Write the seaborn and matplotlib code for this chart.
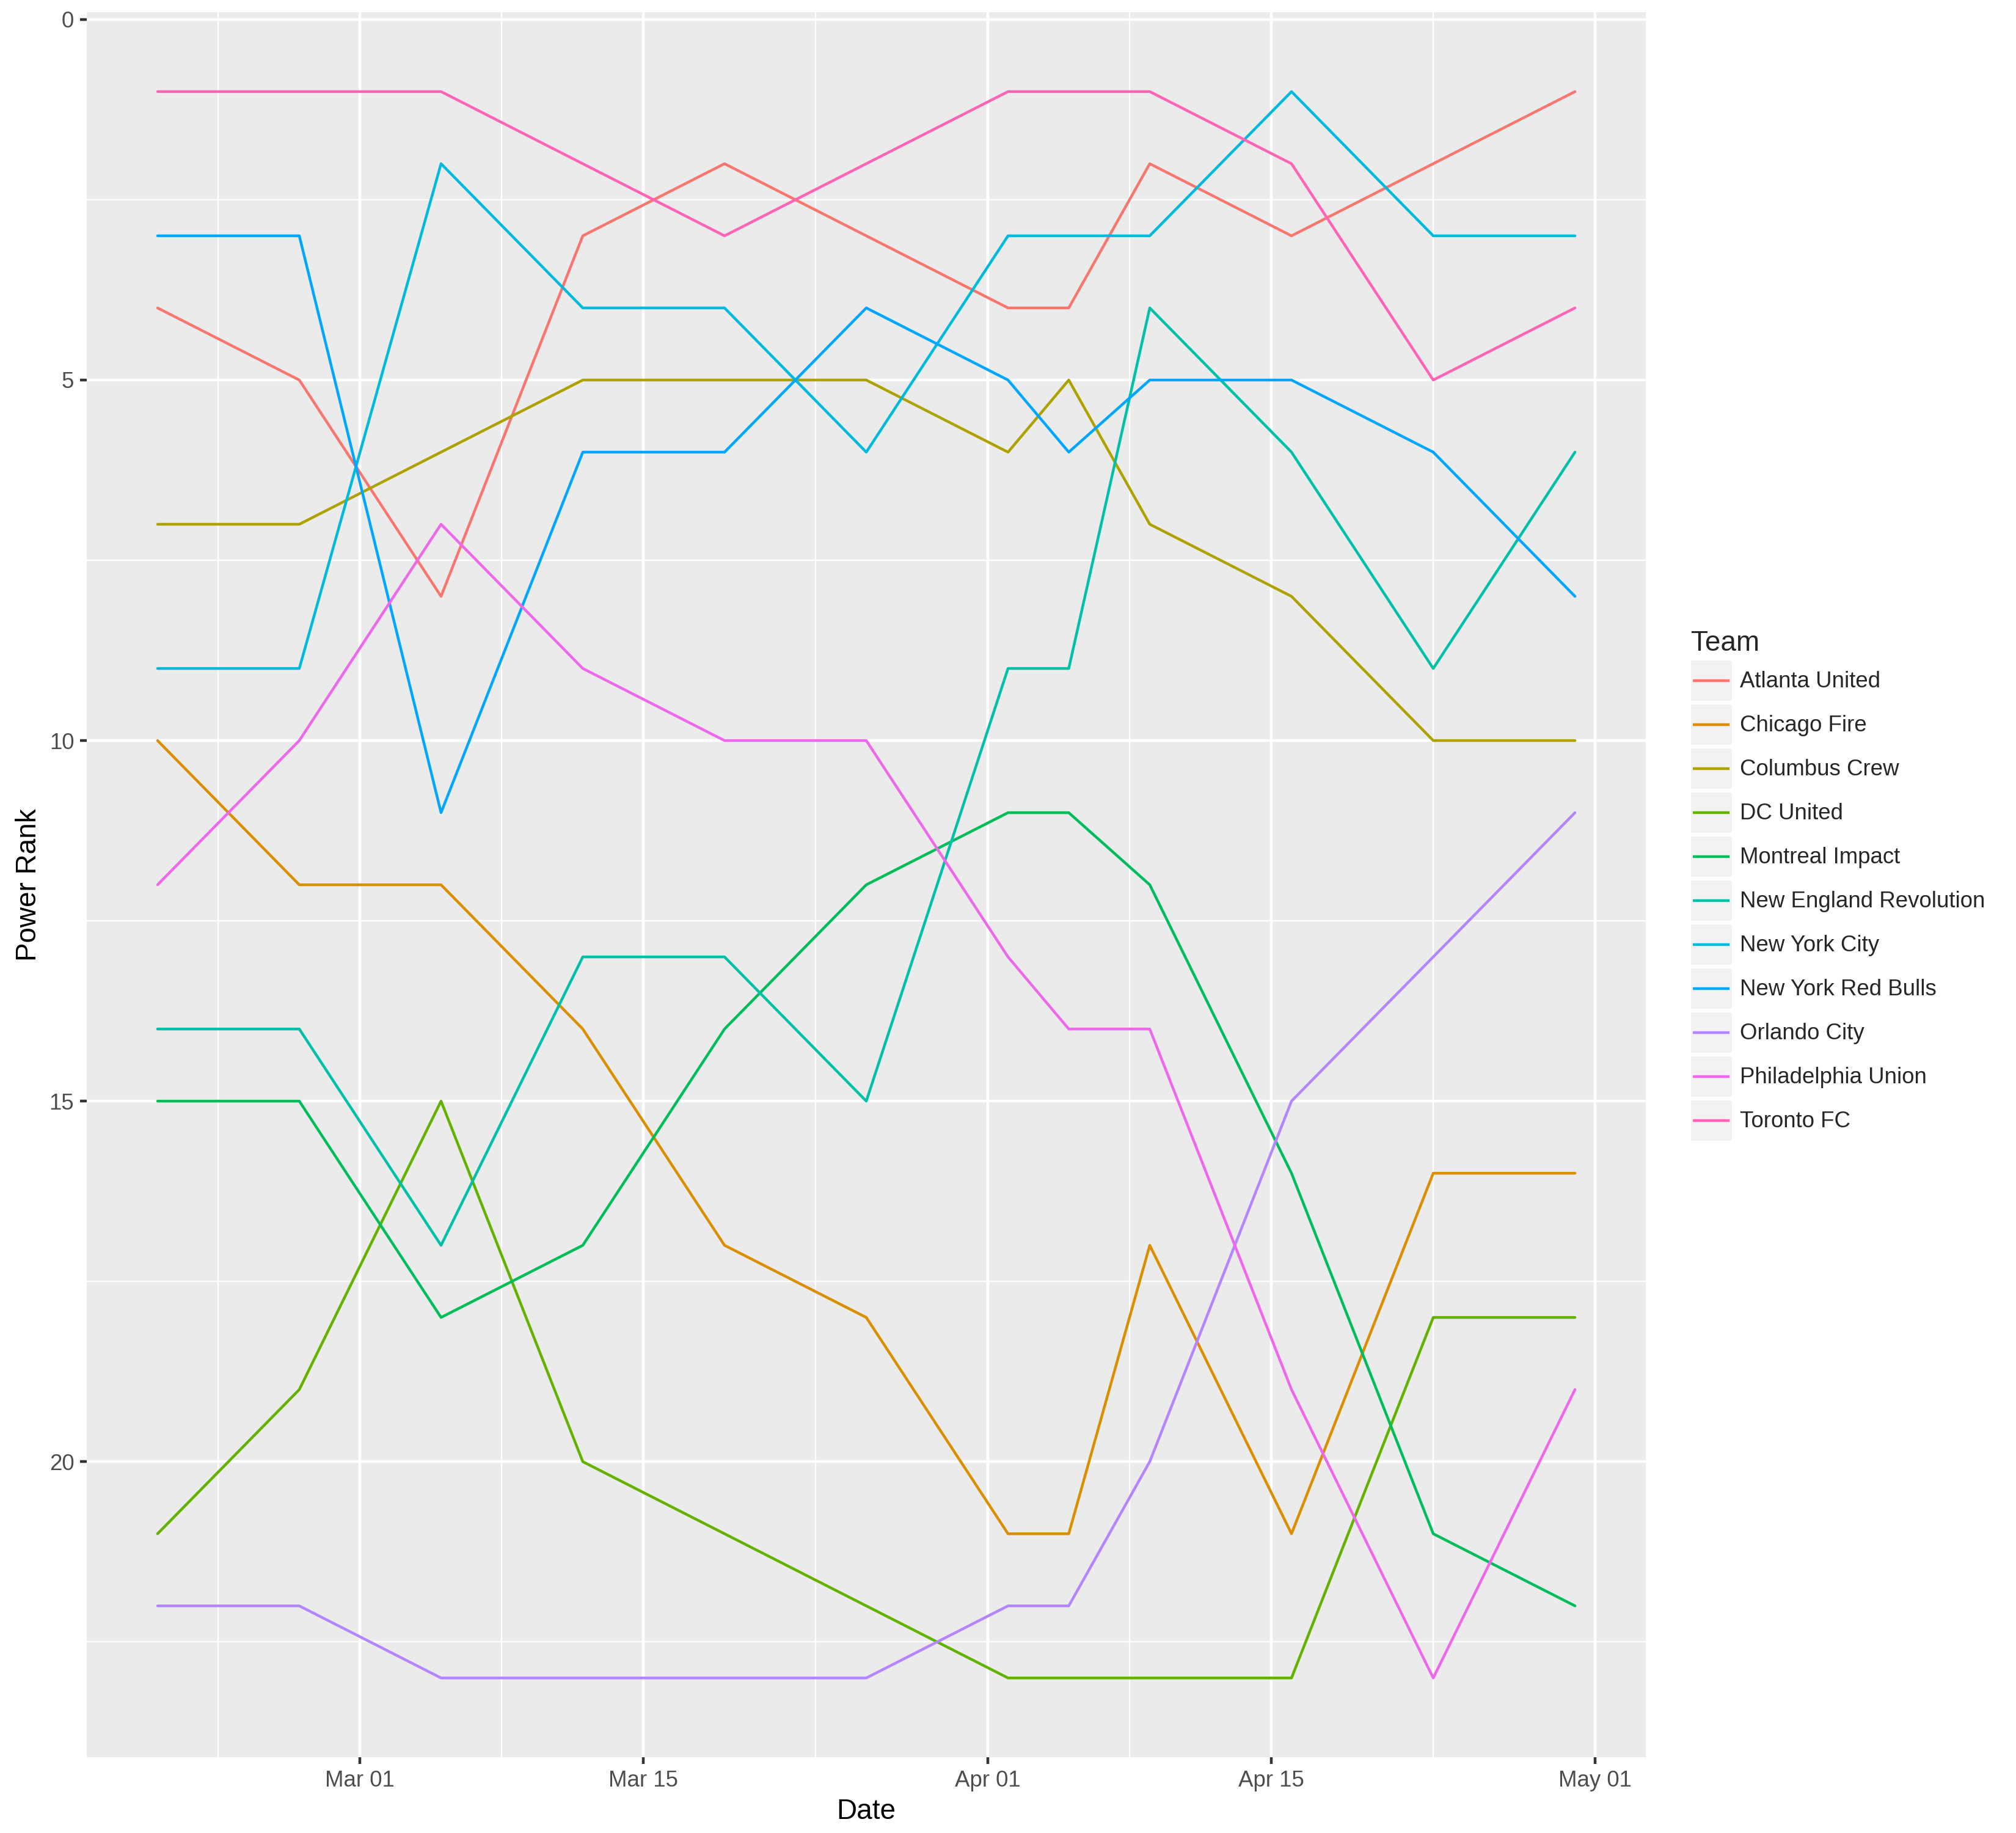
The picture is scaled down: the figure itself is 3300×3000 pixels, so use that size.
import matplotlib
matplotlib.use("Agg")
import matplotlib.pyplot as plt
import matplotlib.dates as mdates
from matplotlib.lines import Line2D
from matplotlib.patches import Rectangle
from matplotlib.legend_handler import HandlerBase
import seaborn as sns
import pandas as pd
import numpy as np

# ---------------- data ----------------
dates = ["2018-02-19", "2018-02-26", "2018-03-05", "2018-03-12", "2018-03-19",
         "2018-03-26", "2018-04-02", "2018-04-05", "2018-04-09", "2018-04-16",
         "2018-04-23", "2018-04-30"]

teams = ["Atlanta United", "Chicago Fire", "Columbus Crew", "DC United",
         "Montreal Impact", "New England Revolution", "New York City",
         "New York Red Bulls", "Orlando City", "Philadelphia Union", "Toronto FC"]

atlanta = [4, 5, 8, 3, 2, 3, 4, 4, 2, 3, 2, 1]
chicago = [10, 12, 12, 14, 17, 18, 21, 21, 17, 21, 16, 16]
columbus = [7, 7, 6, 5, 5, 5, 6, 5, 7, 8, 10, 10]
dc_united = [21, 19, 15, 20, 21, 22, 23, 23, 23, 23, 18, 18]
montreal = [15, 15, 18, 17, 14, 12, 11, 11, 12, 16, 21, 22]
new_england = [14, 14, 17, 13, 13, 15, 9, 9, 4, 6, 9, 6]
nycfc = [9, 9, 2, 4, 4, 6, 3, 3, 3, 1, 3, 3]
red_bulls = [3, 3, 11, 6, 6, 4, 5, 6, 5, 5, 6, 8]
orlando = [22, 22, 23, 23, 23, 23, 22, 22, 20, 15, 13, 11]
philadelphia = [12, 10, 7, 9, 10, 10, 13, 14, 14, 19, 23, 19]
toronto = [1, 1, 1, 2, 3, 2, 1, 1, 1, 2, 5, 4]

ranks = [atlanta, chicago, columbus, dc_united, montreal, new_england,
         nycfc, red_bulls, orlando, philadelphia, toronto]

colors = ["#F8766D", "#DB8E00", "#AEA200", "#64B200", "#00BD5C", "#00C1A7",
          "#00BADE", "#00A6FF", "#B385FF", "#EF67EB", "#FF63B6"]

major_ticks = ["2018-03-01", "2018-03-15", "2018-04-01", "2018-04-15", "2018-05-01"]
y_major = [0, 5, 10, 15, 20]

rows = []
for t, r in zip(teams, ranks):
    for d, v in zip(dates, r):
        rows.append({"Date": pd.Timestamp(d), "Power Rank": v, "Team": t})
df = pd.DataFrame(rows)

# ---------------- style ----------------
sns.set_theme(style="white")
plt.rcParams["font.family"] = ["Liberation Sans", "DejaVu Sans"]

fig = plt.figure(figsize=(11, 10), dpi=300)
ax = fig.add_axes([0.043, 0.0413, 0.7734, 0.952])
ax.set_facecolor("#EBEBEB")

sns.lineplot(data=df, x="Date", y="Power Rank", hue="Team", hue_order=teams,
             palette=colors, estimator=None, linewidth=1.07, legend=False,
             ax=ax, zorder=3)

# x scale
d0 = pd.Timestamp(dates[0]); d1 = pd.Timestamp(dates[-1])
span = (d1 - d0) * 0.05
ax.set_xlim(mdates.date2num(d0 - span), mdates.date2num(d1 + span))
maj = [mdates.date2num(pd.Timestamp(m)) for m in major_ticks]
ax.set_xticks(maj)
ax.set_xticklabels([pd.Timestamp(m).strftime("%b %d") for m in major_ticks])
minor_x = [maj[0] - (maj[1] - maj[0]) / 2] + [(a + b) / 2 for a, b in zip(maj[:-1], maj[1:])]
ax.set_xticks(minor_x, minor=True)

# y scale (reversed)
ymin, ymax = 1, 23
ex = (ymax - ymin) * 0.05
ax.set_ylim(ymax + ex, ymin - ex)
ax.set_yticks(y_major)
ax.set_yticks([v + 2.5 for v in y_major], minor=True)

ax.grid(which="major", color="white", linewidth=1.07, zorder=1)
ax.grid(which="minor", color="white", linewidth=0.53, zorder=1)
ax.set_axisbelow(True)
for s in ax.spines.values():
    s.set_visible(False)

ax.tick_params(which="major", direction="out", length=2.75, width=1.07,
               color="#333333", labelsize=8.8, labelcolor="#4D4D4D", pad=2.2,
               bottom=True, left=True)
ax.tick_params(which="minor", length=0)
ax.set_xlabel("Date", fontsize=11, color="black", labelpad=2.75)
ax.set_ylabel("Power Rank", fontsize=11, color="black", labelpad=2.75)


# legend (ggplot style keys: grey square with a centred line)
class KeyHandler(HandlerBase):
    def create_artists(self, legend, orig_handle, xdescent, ydescent,
                       width, height, fontsize, trans):
        bg = Rectangle((-xdescent, -ydescent), width, height,
                       facecolor="#F2F2F2", edgecolor="none", transform=trans)
        yc = -ydescent + height / 2
        ln = Line2D([-xdescent + 0.045 * width, -xdescent + 0.94 * width], [yc, yc],
                    color=orig_handle.get_color(), linewidth=1.07,
                    solid_capstyle="butt", transform=trans)
        return [bg, ln]


handles = [Line2D([], [], color=c, linewidth=1.07) for c in colors]
fs = 8.8
key = 16.0
gap = 1.28
hh = (key / fs - 0.245) / 0.65
leg = fig.legend(handles, teams, handler_map={Line2D: KeyHandler()},
                 loc="upper left", bbox_to_anchor=(0.8388, 0.6562),
                 frameon=False, fontsize=fs, title="Team", title_fontsize=11,
                 handlelength=key / fs, handleheight=hh, labelspacing=gap / fs,
                 handletextpad=0.355, borderpad=0, borderaxespad=0)
leg._legend_box.align = "left"

fig.savefig("out.png", dpi=300)
